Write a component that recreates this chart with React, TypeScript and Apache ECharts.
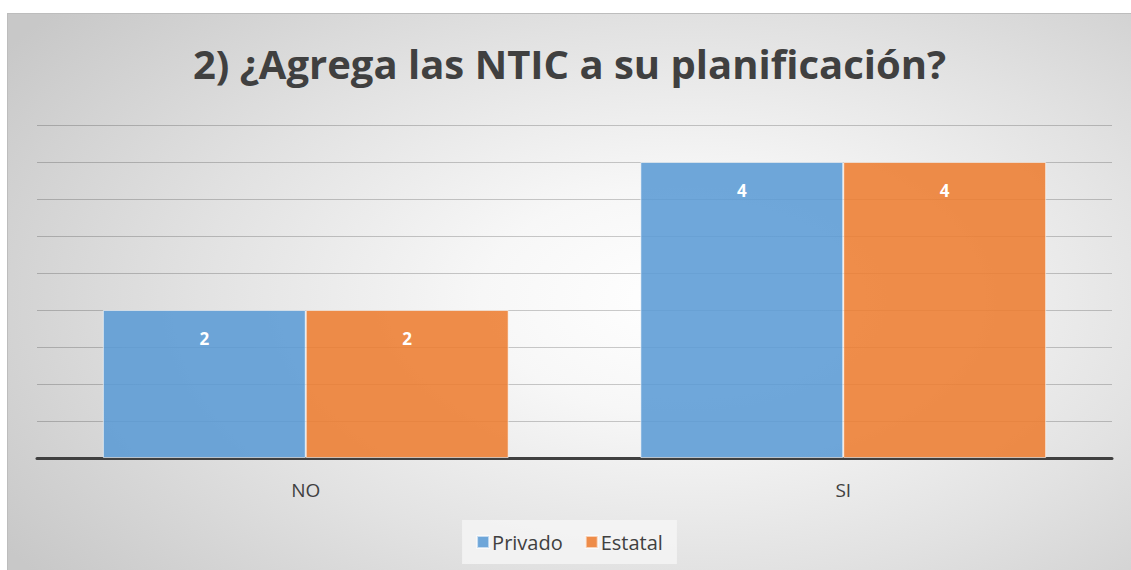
import React, { useEffect, useRef } from "react";
import * as echarts from "echarts";

const categories = ["NO", "SI"];
const privado = [2, 4];
const estatal = [2, 4];
const seriesNames = ["Privado", "Estatal"];
const titleText = "2) ¿Agrega las NTIC a su planificación?";

const FONT = "'Open Sans', 'Noto Sans', sans-serif";

export default function App() {
  const ref = useRef<HTMLDivElement>(null);
  useEffect(() => {
    document.body.style.margin = "0";
    const chart = echarts.init(ref.current!, null, { renderer: "svg" });
    const label = {
      show: true,
      position: "insideTop",
      distance: 20,
      color: "#ffffff",
      fontWeight: "bold",
      fontSize: 17,
      fontFamily: FONT,
    };
    chart.setOption({
      animation: false,
      backgroundColor: "transparent",
      title: {
        text: titleText,
        left: "center",
        top: 24,
        textStyle: { fontSize: 40, fontWeight: "bold", color: "#404040", fontFamily: FONT },
      },
      legend: {
        data: seriesNames,
        bottom: 6,
        left: "center",
        itemWidth: 12,
        itemHeight: 12,
        itemGap: 22,
        icon: "rect",
        backgroundColor: "rgba(245,245,245,0.85)",
        padding: [12, 14, 12, 14],
        textStyle: { fontSize: 20, color: "#404040", fontFamily: FONT, padding: [0, 0, 0, -2] },
      },
      grid: { left: 29, right: 19, top: 111, bottom: 112 },
      xAxis: {
        type: "category",
        data: categories,
        axisLine: { show: true, lineStyle: { color: "#404040", width: 3 } },
        axisTick: { show: false },
        axisLabel: { fontSize: 19, color: "#404040", fontFamily: FONT, margin: 22 },
      },
      yAxis: {
        type: "value",
        min: 0,
        max: 4.5,
        interval: 0.5,
        axisLabel: { show: false },
        axisLine: { show: false },
        axisTick: { show: false },
        splitLine: { lineStyle: { color: "rgba(0,0,0,0.2)", width: 1 } },
      },
      series: [
        {
          name: seriesNames[0],
          type: "bar",
          data: privado,
          barGap: "0%",
          barCategoryGap: "24.5%",
          itemStyle: { color: "rgba(91,155,213,0.88)", borderColor: "rgba(255,255,255,0.6)", borderWidth: 1 },
          label,
        },
        {
          name: seriesNames[1],
          type: "bar",
          data: estatal,
          barGap: "0%",
          barCategoryGap: "24.5%",
          itemStyle: { color: "rgba(237,125,49,0.88)", borderColor: "rgba(255,255,255,0.6)", borderWidth: 1 },
          label,
        },
      ],
    });
    return () => chart.dispose();
  }, []);
  return (
    <div style={{ position: "absolute", left: 0, top: 0, width: 1131, height: 570, background: "#ffffff", overflow: "hidden" }}>
      <div
        style={{
          position: "absolute",
          left: 7,
          top: 13,
          width: 1130,
          height: 570,
          borderTop: "1px solid #bdbdbd",
          borderLeft: "1px solid #bdbdbd",
          background:
            "radial-gradient(ellipse 72% 80% at 60% 50%, #ffffff 0%, #f7f7f7 25%, #e2e2e2 60%, #c8c8c8 100%)",
        }}
      >
        <div ref={ref} style={{ width: 1123, height: 556 }} />
      </div>
    </div>
  );
}
